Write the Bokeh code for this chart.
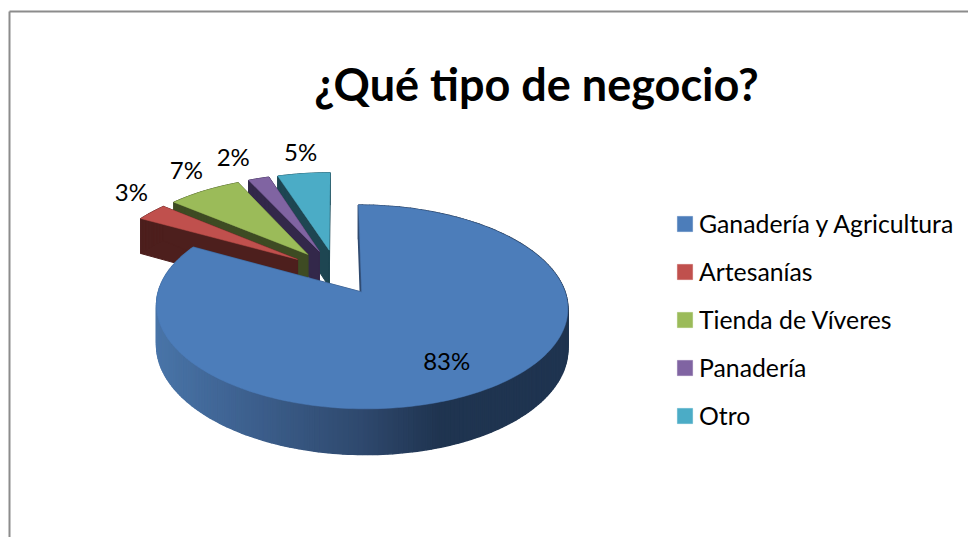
import numpy as np
from bokeh.plotting import figure
from bokeh.models import Range1d, Legend, LegendItem
from bokeh.core.properties import value
from bokeh.embed import file_html
from bokeh.resources import INLINE

title_text = "¿Qué tipo de negocio?"
categories = ["Ganadería y Agricultura", "Artesanías", "Tienda de Víveres", "Panadería", "Otro"]
shares = [83, 3, 7, 2, 5]
top_colors = ["#4c7dba", "#c0504d", "#9bbb59", "#8064a2", "#4bacc6"]
wall_colors = ["#1f3450", "#4d1f1d", "#3e4b23", "#33284a", "#1e4652"]

# 3-D pie projection (plane coordinates -> page pixels)
CX, CY, RX, RY, PERSP, DEPTH, EXPLODE = 336.0, 271.5, 197.5, 94.0, 0.14, 38.0, 0.243
label_radius = [0.725, 1.15, 1.195, 1.50, 1.14]
label_shift = [0, -14, -10, 9, -12.5]


def project(u, v):
    u, v = np.asarray(u, float), np.asarray(v, float)
    s = 1.0 / (1.0 + PERSP * v)
    return CX + RX * u * s, CY - RY * v * s, DEPTH * s


p = figure(width=968, height=537, output_backend="svg", toolbar_location=None,
           x_range=Range1d(0, 968), y_range=Range1d(537, 0),
           min_border=0, outline_line_color=None)
p.axis.visible = False
p.grid.visible = False
p.background_fill_color = "white"

# frame of the picture: top and left rule only
p.line([9, 968], [11, 11], line_color="#8c8c8c", line_width=2)
p.line([9, 9], [11, 537], line_color="#8c8c8c", line_width=2)

total = float(sum(shares))
edges = np.cumsum([0] + shares) / total * 2 * np.pi
slices = []
for i, sh in enumerate(shares):
    a0, a1 = edges[i], edges[i + 1]
    mid = (a0 + a1) / 2
    ou, ov = EXPLODE * np.sin(mid), EXPLODE * np.cos(mid)
    n = max(6, int(sh * 3))
    ang = np.linspace(a0, a1, n)
    u = np.concatenate([[ou], ou + np.sin(ang)])
    v = np.concatenate([[ov], ov + np.cos(ang)])
    slices.append(dict(i=i, mid=mid, ou=ou, ov=ov, u=u, v=v))


def lerp_hex(x):
    stops_x = [150, 250, 360, 440, 580]
    stops = [(0x4a, 0x76, 0xaa), (0x3d, 0x60, 0x8e), (0x2f, 0x49, 0x6e), (0x1f, 0x34, 0x50), (0x1f, 0x34, 0x50)]
    c = [int(np.interp(x, stops_x, [s[k] for s in stops])) for k in range(3)]
    return "#%02x%02x%02x" % tuple(c)


def wall_quads(s, colorer):
    x, y, d = project(s["u"], s["v"])
    xs, ys, cs = [], [], []
    m = len(x)
    for j in range(m):
        k = (j + 1) % m
        xs.append([x[j], x[k], x[k], x[j]])
        ys.append([y[j], y[k], y[k] + d[k], y[j] + d[j]])
        cs.append(colorer((x[j] + x[k]) / 2))
    return xs, ys, cs


tops = {}
for s in [slices[4], slices[3], slices[2], slices[1], slices[0]]:
    i = s["i"]
    col = wall_colors[i]
    colorer = lerp_hex if i == 0 else (lambda _x, c=col: c)
    xs, ys, cs = wall_quads(s, colorer)
    p.patches(xs, ys, fill_color=cs, line_color=cs, line_width=1.5 if i == 0 else 1)
    x, y, _ = project(s["u"], s["v"])
    tops[i] = p.patch(list(x), list(y), fill_color=top_colors[i], line_color=top_colors[i], line_width=0.5)

# data labels
lx, ly, lt = [], [], []
for s, r, sh_y, sh in zip(slices, label_radius, label_shift, shares):
    x, y, _ = project(s["ou"] + r * np.sin(s["mid"]), s["ov"] + r * np.cos(s["mid"]))
    lx.append(float(x)); ly.append(float(y) + sh_y); lt.append(f"{sh}%")
p.text(lx, ly, text=lt, text_font=value("Lato"), text_font_size="24px",
       text_color="black", text_align="center", text_baseline="middle")

# title
p.text([536], [83], text=[title_text], text_font=value("Lato"), text_font_size="45px",
       text_font_style="bold", text_color="black", text_align="center", text_baseline="middle")

legend = Legend(items=[LegendItem(label=c, renderers=[tops[i]]) for i, c in enumerate(categories)],
                location=(675, 107), orientation="vertical",
                glyph_width=19, glyph_height=19, spacing=19, padding=0, margin=0,
                label_standoff=5, label_text_font="Lato", label_text_font_size="24.8px",
                label_text_color="black", border_line_color=None, background_fill_alpha=0,
                label_height=20)
p.add_layout(legend, "center")

open("out.html", "w").write(file_html(p, INLINE))
